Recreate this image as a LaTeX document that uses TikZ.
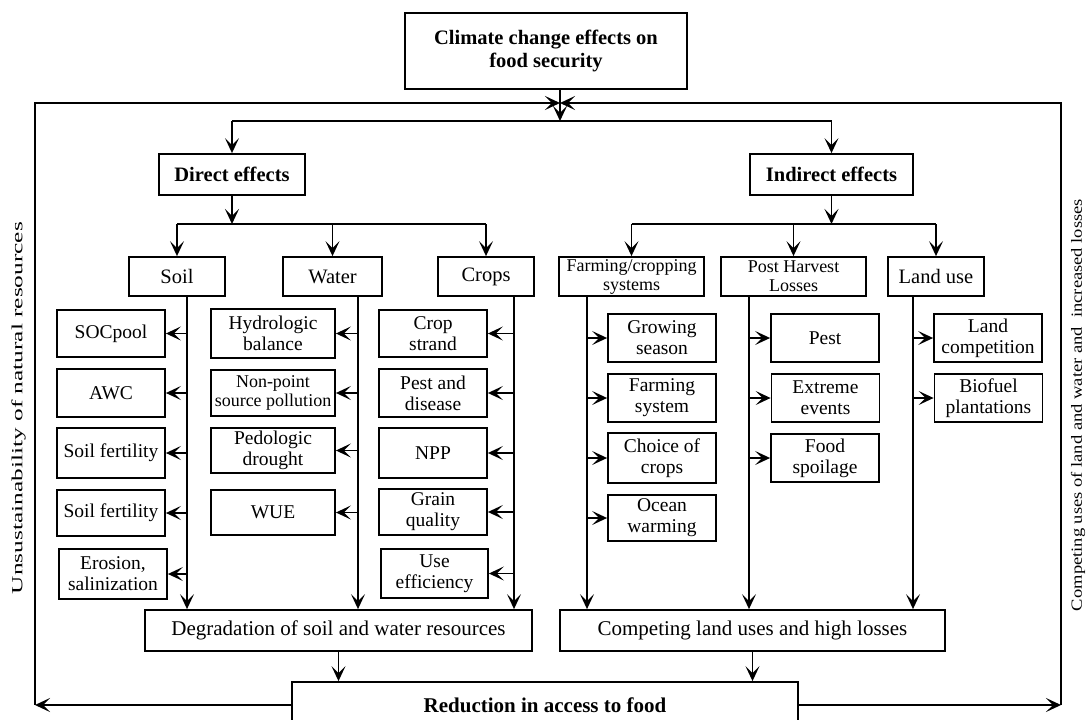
\documentclass[tikz,border=0pt]{standalone}
\usepackage{fontspec}
\setmainfont{Liberation Serif}
\usepackage{graphicx}
\usetikzlibrary{arrows.meta}

\tikzset{
  box/.style={draw, line width=1.8pt, align=center, inner sep=1pt,
              font=\fontsize{19.5}{21}\selectfont},
  hbox/.style={box, font=\bfseries\fontsize{20.5}{23}\selectfont},
  catbox/.style={box, font=\fontsize{20.5}{21}\selectfont},
  smallbox/.style={box, font=\fontsize{18}{19}\selectfont},
  sumbox/.style={box, font=\fontsize{21}{23}\selectfont},
  sz/.style 2 args={minimum width=#1pt, minimum height=#2pt},
  ln/.style={line width=1.7pt},
  arr/.style={line width=1.7pt, -{Stealth[length=15pt,width=14pt,inset=7pt]}},
}

\begin{document}
\begin{tikzpicture}[x=1pt,y=-1pt]
\useasboundingbox (0,0) rectangle (1090,720);
\clip (0,0) rectangle (1090,720);

% top level
\node[hbox, sz={282}{76}] (title) at (546,51) {Climate change effects on\\food security};
\node[hbox, sz={146}{41}] (direct) at (232,174.5) {Direct effects};
\node[hbox, sz={163}{41}] (indirect) at (831.5,174.5) {Indirect effects};

% categories
\node[catbox, sz={96}{39}] (soil) at (177,276.5) {Soil};
\node[catbox, sz={99}{39}] (water) at (332.5,276.5) {Water};
\node[catbox, sz={96}{39}] (crops) at (486,276.5) {Crops};
\node[smallbox, sz={145}{39}] (farm) at (631.5,276.5) {Farming/cropping\\systems};
\node[smallbox, sz={145}{39}] (post) at (793.5,276.5) {Post Harvest\\Losses};
\node[catbox, sz={96}{39}] (land) at (936,276.5) {Land use};

% soil items
\node[box, sz={108}{47}] (soc) at (111,333.5) {SOCpool};
\node[box, sz={108}{48}] (awc) at (111,393) {AWC};
\node[box, sz={108}{50}] (sfa) at (111,453) {Soil fertility};
\node[box, sz={108}{46}] (sfb) at (111,513) {Soil fertility};
\node[box, sz={108}{50}] (ero) at (113,574) {Erosion,\\salinization};

% water items
\node[box, sz={124}{49}] (hyd) at (273,333.5) {Hydrologic\\balance};
\node[smallbox, sz={124}{46}] (nps) at (273,393) {Non-point\\source pollution};
\node[box, sz={124}{45}] (ped) at (273,450.5) {Pedologic\\drought};
\node[box, sz={124}{45}] (wue) at (273,512.5) {WUE};

% crop items
\node[box, sz={108}{47}] (strand) at (433,333.5) {Crop\\strand};
\node[box, sz={108}{48}] (pdis) at (433,393) {Pest and\\disease};
\node[box, sz={108}{50}] (npp) at (433,453) {NPP};
\node[box, sz={108}{46}] (grain) at (433,512) {Grain\\quality};
\node[box, sz={107}{49}] (useff) at (434.5,573.5) {Use\\efficiency};

% farming items
\node[box, sz={108}{48}] (grow) at (662,338) {Growing\\season};
\node[box, sz={108}{48}] (fsys) at (662,398) {Farming\\system};
\node[box, sz={108}{50}] (choice) at (662,458) {Choice of\\crops};
\node[box, sz={108}{46}] (ocean) at (662,518) {Ocean\\warming};

% post harvest items
\node[box, sz={108}{48}] (pest) at (825,338) {Pest};
\node[box, sz={108}{48}] (extr) at (825.5,398) {Extreme\\events};
\node[box, sz={108}{48}] (spoil) at (825,458) {Food\\spoilage};

% land use items
\node[box, sz={108}{48}] (lcomp) at (988,338) {Land\\competition};
\node[box, sz={108}{48}] (bio) at (988.5,398) {Biofuel\\plantations};

% outcomes
\node[sumbox, sz={387}{41}] (deg) at (338.5,630.5) {Degradation of soil and water resources};
\node[sumbox, sz={385}{41}] (comp) at (752.5,630.5) {Competing land uses and high losses};
\node[hbox, sz={506}{46}, font=\bfseries\fontsize{21}{23}\selectfont] (red) at (545,705) {Reduction in access to food};

% side labels
\node[rotate=90, inner sep=0pt] (lside) at (18.5,408)
  {\resizebox{372pt}{\height}{\fontsize{15.5}{15.5}\selectfont Unsustainability of natural resources}};
\node[rotate=90, inner sep=0pt] (rside) at (1078,405)
  {\resizebox{412pt}{\height}{\fontsize{15.5}{15.5}\selectfont Competing uses of land and water and~ increased losses}};

% key points
\coordinate (J) at (560,103);
\coordinate (FL) at (35,103);
\coordinate (FR) at (1061,103);
\coordinate (BL) at (35,705);
\coordinate (BR) at (1061,705);
\coordinate (B0) at (560,121);
\coordinate (D1) at (0,224);
\coordinate (sx) at (187,0);
\coordinate (wx) at (358,0);
\coordinate (cx) at (514,0);
\coordinate (fx) at (587,0);
\coordinate (px) at (749,0);
\coordinate (lx) at (913,0);

% feedback frame
\draw[arr] (red.west) -- (BL);
\draw[arr] (BL) -- (FL) -- (J);
\draw[arr] (red.east) -- (BR);
\draw[arr] (BR) -- (FR) -- (J);

% first split
\draw[arr] (title.south -| J) -- (B0);
\draw[ln] (direct.north |- B0) -- (indirect.north |- B0);
\draw[arr] (direct.north |- B0) -- (direct.north);
\draw[arr] (indirect.north |- B0) -- (indirect.north);

% direct effects split
\draw[arr] (direct.south) -- (direct.south |- D1);
\draw[ln] (soil.north |- D1) -- (crops.north |- D1);
\draw[arr] (soil.north |- D1) -- (soil.north);
\draw[arr] (water.north |- D1) -- (water.north);
\draw[arr] (crops.north |- D1) -- (crops.north);

% indirect effects split
\draw[arr] (indirect.south) -- (indirect.south |- D1);
\draw[ln] (farm.north |- D1) -- (land.north |- D1);
\draw[arr] (farm.north |- D1) -- (farm.north);
\draw[arr] (post.north |- D1) -- (post.north);
\draw[arr] (land.north |- D1) -- (land.north);

% trunks into the outcome boxes
\draw[arr] (sx |- soil.south) -- (sx |- deg.north);
\draw[arr] (wx |- water.south) -- (wx |- deg.north);
\draw[arr] (cx |- crops.south) -- (cx |- deg.north);
\draw[arr] (fx |- farm.south) -- (fx |- comp.north);
\draw[arr] (px |- post.south) -- (px |- comp.north);
\draw[arr] (lx |- land.south) -- (lx |- comp.north);

% branches to items
\foreach \n in {soc,awc,sfa,sfb,ero} \draw[arr] (sx |- \n.east) -- (\n.east);
\foreach \n in {hyd,nps,ped,wue} \draw[arr] (wx |- \n.east) -- (\n.east);
\foreach \n in {strand,pdis,npp,grain,useff} \draw[arr] (cx |- \n.east) -- (\n.east);
\foreach \n in {grow,fsys,choice,ocean} \draw[arr] (fx |- \n.west) -- (\n.west);
\foreach \n in {pest,extr,spoil} \draw[arr] (px |- \n.west) -- (\n.west);
\foreach \n in {lcomp,bio} \draw[arr] (lx |- \n.west) -- (\n.west);

% outcomes into reduction
\draw[arr] (deg.south) -- (deg.south |- red.north);
\draw[arr] (comp.south) -- (comp.south |- red.north);
\end{tikzpicture}
\end{document}
